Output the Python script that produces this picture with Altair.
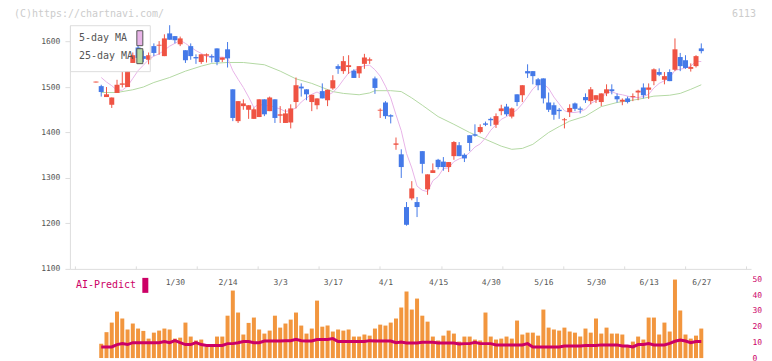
import json
import altair as alt
import pandas as pd

# ---------------- data ----------------
# candle index n = 0..115 (trading days)
opens = [1510, 1502, 1478, 1461, 1487, 1505, 1500, 1553, 1587, 1568,
         1560, 1590, 1591, 1568, 1618, 1612, 1594, 1581, 1590, 1566,
         1555, 1569, 1568, 1585, 1560, 1583, 1495, 1425, 1458, 1450,
         1430, 1434, 1473, 1447, 1473, 1437, 1421, 1422, 1467, 1501,
         1495, 1467, 1460, 1491, 1471, 1497, 1546, 1535, 1544, 1536,
         1530, 1551, 1558, 1519, 1448, 1466, 1438, 1373, 1352, 1236,
         1255, 1247, 1359, 1275, 1311, 1340, 1336, 1324, 1348, 1372,
         1351, 1394, 1396, 1401, 1420, 1430, 1417, 1447, 1457, 1435,
         1484, 1482, 1535, 1535, 1517, 1519, 1466, 1460, 1450, 1427,
         1445, 1464, 1453, 1478, 1469, 1472, 1467, 1486, 1495, 1480,
         1468, 1475, 1478, 1488, 1499, 1494, 1513, 1533, 1516, 1533,
         1538, 1566, 1559, 1540, 1546, 1585]
highs = [1512, 1505, 1500, 1477, 1516, 1533, 1535, 1576, 1594, 1580,
         1576, 1596, 1601, 1616, 1636, 1612, 1611, 1581, 1596, 1572,
         1572, 1574, 1572, 1585, 1565, 1599, 1495, 1469, 1473, 1460,
         1455, 1473, 1473, 1479, 1473, 1458, 1451, 1462, 1521, 1508,
         1495, 1483, 1475, 1508, 1494, 1526, 1550, 1568, 1570, 1539,
         1546, 1573, 1565, 1523, 1453, 1469, 1440, 1389, 1363, 1247,
         1293, 1258, 1359, 1308, 1332, 1342, 1346, 1335, 1381, 1379,
         1354, 1394, 1418, 1418, 1424, 1433, 1442, 1461, 1463, 1455,
         1484, 1504, 1550, 1535, 1520, 1519, 1488, 1466, 1454, 1432,
         1462, 1466, 1457, 1486, 1500, 1482, 1486, 1506, 1506, 1486,
         1475, 1479, 1486, 1494, 1508, 1508, 1541, 1541, 1533, 1539,
         1607, 1575, 1570, 1552, 1570, 1596]
lows = [1510, 1479, 1478, 1454, 1487, 1499, 1500, 1553, 1564, 1555,
        1550, 1568, 1571, 1568, 1604, 1596, 1590, 1553, 1560, 1551,
        1551, 1554, 1554, 1548, 1555, 1543, 1425, 1421, 1450, 1430,
        1430, 1434, 1436, 1447, 1421, 1421, 1421, 1409, 1453, 1479,
        1471, 1447, 1451, 1475, 1458, 1494, 1529, 1529, 1529, 1520,
        1520, 1540, 1551, 1485, 1432, 1430, 1420, 1362, 1300, 1195,
        1251, 1214, 1310, 1263, 1311, 1319, 1316, 1313, 1340, 1348,
        1335, 1359, 1391, 1398, 1414, 1414, 1410, 1438, 1436, 1431,
        1458, 1467, 1520, 1506, 1493, 1464, 1445, 1428, 1430, 1409,
        1434, 1447, 1442, 1465, 1462, 1465, 1458, 1480, 1484, 1466,
        1460, 1464, 1469, 1471, 1475, 1474, 1504, 1524, 1506, 1513,
        1535, 1535, 1540, 1534, 1543, 1574]
closes = [1512, 1489, 1484, 1477, 1505, 1508, 1535, 1570, 1564, 1562,
          1570, 1575, 1593, 1607, 1604, 1603, 1607, 1559, 1568, 1563,
          1572, 1572, 1565, 1555, 1565, 1563, 1432, 1469, 1464, 1460,
          1451, 1473, 1440, 1477, 1432, 1440, 1442, 1453, 1504, 1497,
          1484, 1483, 1475, 1475, 1494, 1515, 1540, 1557, 1548, 1520,
          1546, 1565, 1561, 1498, 1450, 1436, 1435, 1376, 1324, 1197,
          1277, 1236, 1331, 1308, 1317, 1324, 1324, 1335, 1379, 1348,
          1343, 1377, 1393, 1412, 1417, 1427, 1436, 1453, 1440, 1453,
          1467, 1504, 1530, 1524, 1504, 1475, 1450, 1439, 1447, 1429,
          1454, 1452, 1450, 1471, 1495, 1482, 1486, 1495, 1491, 1473,
          1472, 1467, 1480, 1492, 1482, 1499, 1539, 1527, 1524, 1513,
          1583, 1546, 1542, 1544, 1568, 1579]

# 5-day moving average, n = 1..115
ma5_vals = [1521, 1511, 1503, 1493, 1493, 1502, 1519, 1536, 1548, 1560,
            1568, 1573, 1581, 1590, 1596, 1603, 1596, 1588, 1580, 1574,
            1567, 1568, 1565, 1566, 1564, 1536, 1517, 1499, 1478, 1455,
            1463, 1458, 1460, 1455, 1452, 1446, 1449, 1454, 1467, 1476,
            1484, 1489, 1483, 1482, 1488, 1500, 1516, 1531, 1536, 1542,
            1547, 1548, 1538, 1524, 1502, 1476, 1439, 1404, 1354, 1322,
            1282, 1273, 1270, 1294, 1303, 1321, 1322, 1336, 1342, 1346,
            1356, 1368, 1375, 1388, 1405, 1417, 1429, 1435, 1442, 1450,
            1463, 1479, 1496, 1506, 1507, 1497, 1478, 1463, 1448, 1444,
            1444, 1446, 1451, 1464, 1470, 1477, 1486, 1490, 1485, 1483,
            1480, 1477, 1477, 1479, 1484, 1498, 1508, 1514, 1520, 1537,
            1539, 1542, 1546, 1557, 1556]

# 25-day moving average, read at these candle positions
ma25_pos = [1, 4, 7, 9, 11, 14, 17, 20, 22, 25, 28, 32, 35, 38, 41, 45, 47, 50,
            52, 53, 56, 58, 60, 62, 65, 68, 71, 74, 77, 79, 81, 83, 86, 88, 90,
            93, 96, 99, 103, 106, 109, 111, 113, 115]
ma25_vals = [1488, 1488, 1494, 1500, 1510, 1521, 1535, 1546, 1552, 1554, 1554,
             1549, 1535, 1518, 1508, 1490, 1486, 1483, 1487, 1492, 1492, 1490,
             1476, 1460, 1435, 1418, 1400, 1385, 1370, 1363, 1365, 1374, 1400,
             1413, 1425, 1436, 1457, 1466, 1473, 1480, 1482, 1486, 1495, 1505]

# volume bars and AI-Predict line, n = 1..115
volume = [9.2, 16.5, 22.6, 29.6, 25.2, 18.2, 22.0, 18.8, 17.3, 12.4,
          16.2, 17.5, 18.8, 18.2, 12.4, 13.0, 22.6, 13.7, 11.2, 11.8,
          7.3, 7.3, 13.7, 13.7, 27.0, 43.0, 29.0, 15.0, 22.4, 25.8,
          18.2, 15.6, 17.5, 27.0, 19.4, 22.0, 24.5, 29.0, 20.7, 15.6,
          18.8, 36.6, 20.0, 20.7, 16.9, 18.2, 17.5, 18.2, 13.7, 13.7,
          15.0, 14.3, 18.8, 21.3, 20.7, 22.6, 25.2, 32.2, 42.4, 30.9,
          37.9, 27.0, 23.2, 13.7, 11.2, 14.3, 17.5, 15.6, 10.5, 13.7,
          13.7, 11.8, 11.2, 29.0, 13.7, 11.8, 12.4, 13.7, 12.4, 23.9,
          15.0, 16.2, 16.2, 14.3, 30.9, 19.4, 18.2, 17.5, 19.4, 16.9,
          16.2, 13.7, 18.8, 16.2, 25.2, 15.6, 19.4, 15.6, 15.6, 15.0,
          7.3, 10.5, 13.7, 11.8, 25.8, 25.8, 15.0, 22.6, 16.9, 50.0,
          30.3, 15.0, 12.4, 14.3, 18.8]
ai_pred = [7.1, 7.1, 7.1, 8.6, 9.2, 8.6, 9.8, 9.8, 9.8, 9.8,
           9.8, 9.8, 10.5, 9.8, 11.1, 9.8, 8.6, 8.6, 9.8, 8.6,
           8.0, 8.0, 8.0, 8.0, 9.2, 9.2, 9.8, 10.5, 10.5, 9.8,
           9.8, 10.9, 10.9, 10.9, 10.9, 11.1, 11.1, 12.0, 11.1, 10.9,
           10.9, 11.8, 11.8, 11.8, 12.4, 10.5, 10.5, 10.5, 10.5, 10.5,
           10.5, 11.1, 10.9, 10.9, 10.9, 10.9, 9.8, 10.2, 9.6, 9.6,
           9.6, 10.0, 10.0, 10.0, 9.6, 9.6, 9.6, 9.6, 9.0, 9.2,
           9.2, 10.0, 9.2, 9.2, 9.2, 8.4, 8.4, 8.4, 8.4, 8.4,
           8.4, 9.2, 7.1, 7.1, 7.1, 7.1, 7.1, 7.1, 7.7, 7.7,
           7.7, 7.7, 8.0, 8.0, 8.0, 8.4, 8.4, 8.4, 8.4, 7.7,
           7.7, 7.1, 8.6, 8.6, 9.2, 8.4, 8.4, 8.4, 9.4, 10.7,
           11.5, 10.9, 9.8, 10.5, 10.5]

date_pos = [15, 25, 35, 45, 55, 65, 75, 85, 95, 105, 115]
date_labels = ["1/30", "2/14", "3/3", "3/17", "4/1", "4/15", "4/30",
               "5/16", "5/30", "6/13", "6/27"]
price_ticks = [1100, 1200, 1300, 1400, 1500, 1600]
vol_ticks = [0, 10, 20, 30, 40, 50]

# ---------------- styling ----------------
RED = "#ef5343"
BLUE = "#4479e8"
PINK = "#e8b4e8"
GREEN = "#b4d9a4"
ORANGE = "#f2963e"
CRIMSON = "#cc0066"
GRAYTXT = "#555555"
AXISGRAY = "#dddddd"
FONT = "DejaVu Sans Mono"
TALL_RECT = "M-0.4,-1L0.4,-1L0.4,1L-0.4,1Z"

XDOM = [-4, 123.5]
grid_ticks = [XDOM[0] + k * (XDOM[1] - XDOM[0]) / 11 for k in range(12)]
xscale = alt.Scale(domain=XDOM, nice=False, zero=False)
pscale = alt.Scale(domain=[1100, 1636], nice=False, zero=False)
vscale = alt.Scale(domain=[0, 56.8], nice=False, zero=False)

# ---------------- tables ----------------
n_all = list(range(len(opens)))
candles = pd.DataFrame({"n": n_all, "open": opens, "high": highs,
                        "low": lows, "close": closes})
candles["dir"] = ["up" if c >= o else "down" for o, c in zip(opens, closes)]

n_ma5 = list(range(1, len(ma5_vals) + 1))
ma = pd.DataFrame({
    "n": n_ma5 + ma25_pos,
    "v": ma5_vals + ma25_vals,
    "name": ["5-day MA"] * len(ma5_vals) + ["25-day MA"] * len(ma25_vals),
})
vol_df = pd.DataFrame({"n": list(range(1, len(volume) + 1)), "vol": volume,
                       "ai": ai_pred, "name": "AI-Predict"})

label_expr = f"{json.dumps(date_labels)}[indexof({json.dumps(date_pos)}, datum.value)]"

# ---------------- axes (shared by all layers of a panel) ----------------
x_main_axis = alt.Axis(values=date_pos, labelExpr=label_expr, ticks=False,
                       grid=False, domainColor=AXISGRAY, domainWidth=1,
                       labelPadding=10, labelColor=GRAYTXT, labelFont=FONT,
                       labelFontSize=8, labelFlush=False, title=None)
y_price_axis = alt.Axis(values=price_ticks, format="d", grid=False, tickSize=5,
                        tickColor=AXISGRAY, domainColor=AXISGRAY, labelPadding=5,
                        labelColor=GRAYTXT, labelFont=FONT, labelFontSize=8, title=None)
x_vol_axis = alt.Axis(orient="top", values=grid_ticks, labels=False, ticks=True,
                      tickSize=3, tickColor=AXISGRAY, domain=False, grid=False,
                      title=None)
y_vol_axis = alt.Axis(orient="right", values=vol_ticks, ticks=False, domain=False,
                      grid=False, labelColor=CRIMSON, labelPadding=1,
                      labelFont=FONT, labelFontSize=8, title=None)

x_main = alt.X("n:Q", scale=xscale, axis=x_main_axis)
x_vol = alt.X("n:Q", scale=xscale, axis=x_vol_axis)

dir_color = alt.Color("dir:N", scale=alt.Scale(domain=["up", "down"], range=[RED, BLUE]),
                      legend=None)

# ---------------- price panel ----------------
wicks = alt.Chart(candles).mark_rule(strokeWidth=1).encode(
    x=x_main,
    y=alt.Y("low:Q", scale=pscale, axis=y_price_axis),
    y2="high:Q",
    color=dir_color,
)
bodies = alt.Chart(candles).mark_bar(size=5, orient="vertical").encode(
    x=x_main,
    y=alt.Y("open:Q", scale=pscale, axis=y_price_axis),
    y2="close:Q",
    color=dir_color,
)
ma5_line = alt.Chart(ma).transform_filter(alt.datum.name == "5-day MA").mark_line(
    color=PINK, strokeWidth=1).encode(
    x=x_main, y=alt.Y("v:Q", scale=pscale, axis=y_price_axis), order="n:Q")
ma25_line = alt.Chart(ma).transform_filter(alt.datum.name == "25-day MA").mark_line(
    color=GREEN, strokeWidth=1).encode(
    x=x_main, y=alt.Y("v:Q", scale=pscale, axis=y_price_axis), order="n:Q")
ma_legend = alt.Chart(ma).mark_point(shape="square", filled=True, opacity=0).encode(
    x=x_main,
    y=alt.Y("v:Q", scale=pscale, axis=y_price_axis),
    fill=alt.Fill("name:N",
                  scale=alt.Scale(domain=["5-day MA", "25-day MA"], range=[PINK, GREEN]),
                  legend=alt.Legend(title=None, orient="top-left", offset=0, padding=5,
                                    strokeColor=AXISGRAY, symbolType=TALL_RECT,
                                    symbolSize=225, symbolStrokeColor=GRAYTXT,
                                    symbolStrokeWidth=1, symbolOpacity=1,
                                    symbolOffset=57, labelOffset={"expr": "-69"},
                                    labelExpr="datum.label == '5-day MA' ? '\u00a05-day MA' : datum.label",
                                    labelFont=FONT, labelFontSize=10, labelColor=GRAYTXT,
                                    rowPadding={"expr": "-3"})),
)

price = alt.layer(ma25_line, ma5_line, wicks, bodies, ma_legend).properties(
    width=682, height=244,
    title=alt.Title("(C)https://chartnavi.com/", anchor="start", frame="group", dx=-56,
                    offset=6, font=FONT, fontSize=10, fontWeight="normal",
                    color="#cccccc"),
)

# ---------------- volume panel ----------------
bars = alt.Chart(vol_df).mark_bar(size=4, color=ORANGE, orient="vertical").encode(
    x=x_vol,
    y=alt.Y("vol:Q", scale=vscale, axis=y_vol_axis),
)
ai_line = alt.Chart(vol_df).mark_line(color=CRIMSON, strokeWidth=3).encode(
    x=x_vol, y=alt.Y("ai:Q", scale=vscale, axis=y_vol_axis))
ai_legend = alt.Chart(vol_df).mark_point(shape="square", filled=True, opacity=0).encode(
    x=x_vol,
    y=alt.Y("ai:Q", scale=vscale, axis=y_vol_axis),
    fill=alt.Fill("name:N", scale=alt.Scale(domain=["AI-Predict"], range=[CRIMSON]),
                  legend=alt.Legend(title=None, orient="none", legendX=0, legendY=9,
                                    padding=0, symbolType=TALL_RECT, symbolSize=225,
                                    symbolStrokeWidth=0, symbolOpacity=1,
                                    symbolOffset=68, labelOffset={"expr": "-77"},
                                    labelFont=FONT, labelFontSize=10,
                                    labelColor=CRIMSON)),
)
vol = alt.layer(bars, ai_line, ai_legend).properties(width=682, height=89.3)

chart = alt.vconcat(price, vol, spacing=0, bounds="flush").resolve_scale(
    fill="independent"
).properties(
    padding={"left": 6, "top": 0, "right": 2, "bottom": 0},
    title=alt.Title("6113", anchor="end", frame="group", dx=5, dy=10, offset=0,
                    font=FONT, fontSize=10, fontWeight="normal", color="#cccccc"),
).configure_view(stroke=None)

chart.save("out.html", embed_options={"renderer": "svg", "actions": False})
